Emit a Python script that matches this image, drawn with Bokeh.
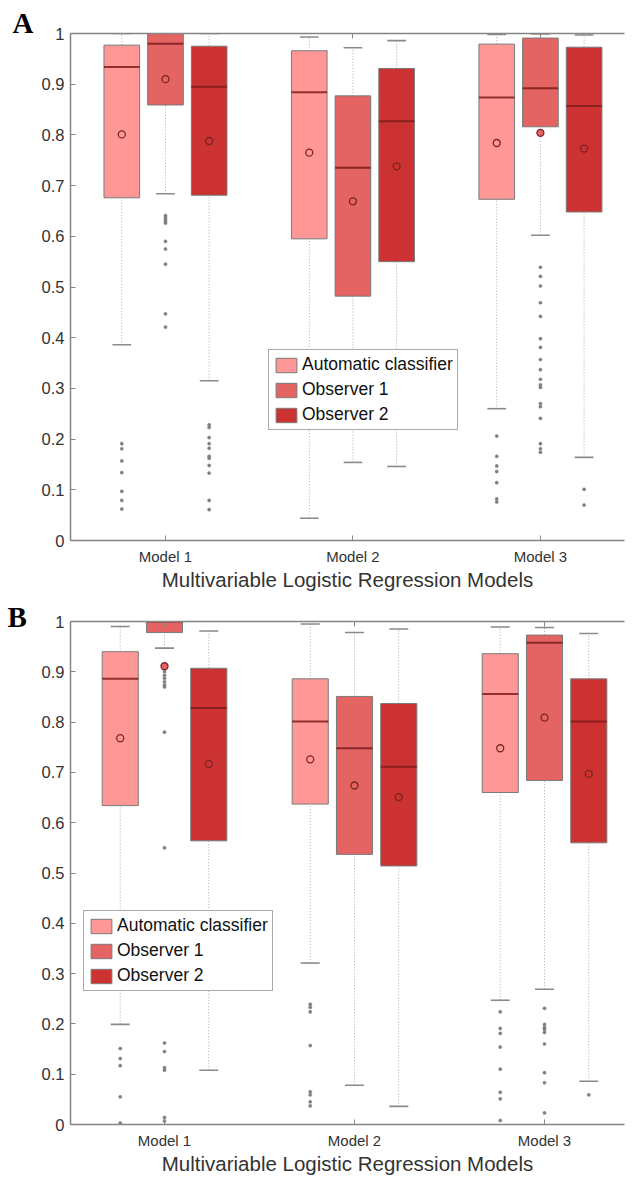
from bokeh.plotting import figure
from bokeh.layouts import column
from bokeh.models import (FixedTicker, LinearAxis, Range1d, Legend, LegendItem,
                          ColumnDataSource)
from bokeh.embed import file_html
from bokeh.resources import INLINE

models = ["Model 1", "Model 2", "Model 3"]
series = ["Automatic classifier", "Observer 1", "Observer 2"]
colors = ["#FF9797", "#E46363", "#CD3232"]
y_ticks = [0, 0.1, 0.2, 0.3, 0.4, 0.5, 0.6, 0.7, 0.8, 0.9, 1]

# ---------------- Panel A ----------------
a_auto_q1 = [0.676, 0.595, 0.673]
a_auto_med = [0.934, 0.884, 0.874]
a_auto_q3 = [0.977, 0.966, 0.979]
a_auto_lo = [0.386, 0.044, 0.260]
a_auto_hi = [1.000, 0.993, 0.998]
a_auto_mean = [0.801, 0.765, 0.784]
a_auto_out = [[0.191, 0.181, 0.157, 0.134, 0.097, 0.079, 0.062],
              [],
              [0.206, 0.166, 0.147, 0.136, 0.114, 0.082, 0.076]]

a_obs1_q1 = [0.859, 0.482, 0.816]
a_obs1_med = [0.980, 0.735, 0.892]
a_obs1_q3 = [1.000, 0.877, 0.991]
a_obs1_lo = [0.684, 0.154, 0.602]
a_obs1_hi = [1.000, 0.972, 0.999]
a_obs1_mean = [0.910, 0.669, 0.804]
a_obs1_out = [[0.641, 0.637, 0.633, 0.629, 0.626, 0.590, 0.575, 0.545, 0.447, 0.421],
              [],
              [0.539, 0.521, 0.502, 0.469, 0.442, 0.398, 0.381, 0.357, 0.337, 0.318,
               0.307, 0.302, 0.270, 0.264, 0.241, 0.191, 0.181, 0.174]]

a_obs2_q1 = [0.681, 0.550, 0.648]
a_obs2_med = [0.895, 0.827, 0.857]
a_obs2_q3 = [0.975, 0.931, 0.973]
a_obs2_lo = [0.315, 0.146, 0.164]
a_obs2_hi = [1.000, 0.986, 0.997]
a_obs2_mean = [0.788, 0.738, 0.773]
a_obs2_out = [[0.228, 0.223, 0.203, 0.191, 0.182, 0.166, 0.162, 0.148, 0.133, 0.079, 0.061],
              [],
              [0.101, 0.070]]

# ---------------- Panel B ----------------
b_auto_q1 = [0.634, 0.637, 0.660]
b_auto_med = [0.886, 0.801, 0.856]
b_auto_q3 = [0.940, 0.886, 0.936]
b_auto_lo = [0.199, 0.321, 0.247]
b_auto_hi = [0.990, 0.995, 0.989]
b_auto_mean = [0.768, 0.726, 0.748]
b_auto_out = [[0.151, 0.131, 0.117, 0.055, 0.003],
              [0.239, 0.233, 0.224, 0.157, 0.065, 0.059, 0.045, 0.037],
              [0.224, 0.191, 0.181, 0.154, 0.110, 0.064, 0.051, 0.008]]

b_obs1_q1 = [0.978, 0.537, 0.684]
b_obs1_med = [1.000, 0.748, 0.958]
b_obs1_q3 = [1.000, 0.851, 0.973]
b_obs1_lo = [0.947, 0.078, 0.269]
b_obs1_hi = [1.000, 0.978, 0.988]
b_obs1_mean = [0.911, 0.674, 0.809]
b_obs1_out = [[0.900, 0.893, 0.887, 0.880, 0.874, 0.870, 0.780, 0.550, 0.407,
               0.162, 0.145, 0.113, 0.108, 0.014, 0.007],
              [],
              [0.231, 0.199, 0.193, 0.189, 0.183, 0.160, 0.103, 0.083, 0.023]]

b_obs2_q1 = [0.564, 0.514, 0.560]
b_obs2_med = [0.828, 0.711, 0.801]
b_obs2_q3 = [0.907, 0.837, 0.886]
b_obs2_lo = [0.108, 0.036, 0.086]
b_obs2_hi = [0.981, 0.985, 0.976]
b_obs2_mean = [0.717, 0.651, 0.697]
b_obs2_out = [[], [], [0.059]]

panel_a = [
    (a_auto_q1, a_auto_med, a_auto_q3, a_auto_lo, a_auto_hi, a_auto_mean, a_auto_out),
    (a_obs1_q1, a_obs1_med, a_obs1_q3, a_obs1_lo, a_obs1_hi, a_obs1_mean, a_obs1_out),
    (a_obs2_q1, a_obs2_med, a_obs2_q3, a_obs2_lo, a_obs2_hi, a_obs2_mean, a_obs2_out),
]
panel_b = [
    (b_auto_q1, b_auto_med, b_auto_q3, b_auto_lo, b_auto_hi, b_auto_mean, b_auto_out),
    (b_obs1_q1, b_obs1_med, b_obs1_q3, b_obs1_lo, b_obs1_hi, b_obs1_mean, b_obs1_out),
    (b_obs2_q1, b_obs2_med, b_obs2_q3, b_obs2_lo, b_obs2_hi, b_obs2_mean, b_obs2_out),
]

FONT = "Liberation Sans"
AXIS_COLOR = "#858585"
TEXT_COLOR = "#333333"
offsets = [-0.233, 0.0, 0.233]
BOX_W = 0.19
CAP_W = 0.10


def make_panel(data, letter, x_range, border_left, border_top, frame_h, border_bottom,
               legend_xy, letter_offset, letter_standoff):
    height = border_top + frame_h + border_bottom
    p = figure(width=625, height=height, output_backend="svg", toolbar_location=None,
               x_range=Range1d(*x_range), y_range=Range1d(0, 1),
               min_border_left=border_left, min_border_right=1,
               min_border_top=border_top, min_border_bottom=border_bottom,
               background_fill_color="white", border_fill_color="white")
    p.outline_line_color = None
    p.grid.visible = False

    # panel letter as the figure title, pushed left of the frame
    p.title.text = letter
    p.title.align = "left"
    p.title.offset = letter_offset
    p.title.standoff = letter_standoff
    p.title.vertical_align = "bottom"
    p.title.text_font = "Liberation Serif"
    p.title.text_font_style = "bold"
    p.title.text_font_size = "29px"
    p.title.text_color = "black"

    # bottom axis
    xa = p.xaxis[0]
    xa.ticker = FixedTicker(ticks=[1, 2, 3])
    xa.major_label_overrides = {i + 1: m for i, m in enumerate(models)}
    xa.axis_label = "Multivariable Logistic Regression Models"
    xa.axis_label_text_font = FONT
    xa.axis_label_text_font_style = "normal"
    xa.axis_label_text_font_size = "20.5px"
    xa.axis_label_text_color = TEXT_COLOR
    xa.axis_label_standoff = 0
    xa.major_label_text_font = FONT
    xa.major_label_text_font_size = "15px"
    xa.major_label_text_color = TEXT_COLOR
    xa.major_label_standoff = 7
    xa.major_tick_in = 5
    xa.major_tick_out = 0
    xa.minor_tick_line_color = None
    xa.axis_line_color = AXIS_COLOR
    xa.axis_line_width = 1.5
    xa.major_tick_line_color = AXIS_COLOR

    # left axis
    ya = p.yaxis[0]
    ya.ticker = FixedTicker(ticks=y_ticks)
    ya.major_label_overrides = {0: "0", 1: "1"}
    ya.major_label_text_font = FONT
    ya.major_label_text_font_size = "16.5px"
    ya.major_label_text_color = TEXT_COLOR
    ya.major_label_standoff = 6
    ya.major_tick_in = 5
    ya.major_tick_out = 0
    ya.minor_tick_line_color = None
    ya.axis_line_color = AXIS_COLOR
    ya.axis_line_width = 1.5
    ya.major_tick_line_color = AXIS_COLOR

    # top axis (box edge with inward ticks, no labels)
    ta = LinearAxis(ticker=FixedTicker(ticks=[1, 2, 3]), major_tick_in=5, major_tick_out=0,
                    major_label_text_font_size="1px", major_label_text_color=None,
                    major_label_standoff=0,
                    minor_tick_line_color=None, axis_line_color=AXIS_COLOR,
                    axis_line_width=1.5, major_tick_line_color=AXIS_COLOR)
    p.add_layout(ta, "above")

    box_renderers = []
    for k, (q1, med, q3, lo, hi, mean, outs) in enumerate(data):
        xs = [i + 1 + offsets[k] for i in range(len(models))]
        src = ColumnDataSource(dict(
            x=xs, q1=q1, med=med, q3=q3, lo=lo, hi=hi, mean=mean,
            cx0=[x - CAP_W / 2 for x in xs], cx1=[x + CAP_W / 2 for x in xs],
            bx0=[x - BOX_W / 2 for x in xs], bx1=[x + BOX_W / 2 for x in xs]))
        # whiskers (dotted)
        p.segment(x0="x", y0="q3", x1="x", y1="hi", source=src,
                  line_color="#aaaaaa", line_dash="1 2", line_width=1)
        p.segment(x0="x", y0="lo", x1="x", y1="q1", source=src,
                  line_color="#aaaaaa", line_dash="1 2", line_width=1)
        # caps
        p.segment(x0="cx0", y0="hi", x1="cx1", y1="hi", source=src,
                  line_color="#8a8a8a", line_width=1.6)
        p.segment(x0="cx0", y0="lo", x1="cx1", y1="lo", source=src,
                  line_color="#8a8a8a", line_width=1.6)
        # boxes
        r = p.vbar(x="x", width=BOX_W, bottom="q1", top="q3", source=src,
                   fill_color=colors[k], line_color="#7a7a7a", line_width=1)
        box_renderers.append(r)
        # medians
        p.segment(x0="bx0", y0="med", x1="bx1", y1="med", source=src,
                  line_color="#7d1c1c", line_width=2, line_alpha=0.85)
        # outliers
        ox, oy = [], []
        for i, vals in enumerate(outs):
            ox += [xs[i]] * len(vals)
            oy += vals
        p.scatter(ox, oy, size=3.2, marker="circle", fill_color="#7f7f7f",
                  line_color="#7f7f7f", line_width=0.5)
        # means
        p.scatter(x="x", y="mean", source=src, size=7, marker="circle",
                  fill_color=colors[k], line_color="#7a2323", line_width=1.3)

    legend = Legend(items=[LegendItem(label=s, renderers=[box_renderers[k]])
                           for k, s in enumerate(series)],
                    location=legend_xy, orientation="vertical",
                    label_text_font=FONT, label_text_font_size="17.5px",
                    label_text_color="#111111",
                    glyph_width=26, glyph_height=18, label_height=18,
                    label_standoff=3, spacing=4, padding=4, margin=0,
                    border_line_color="#555555", border_line_width=1,
                    background_fill_color="white", background_fill_alpha=1)
    p.add_layout(legend, "center")
    return p


p1 = make_panel(panel_a, "A", (0.4934, 3.4485), 64, 33, 507, 56, (198, 110), -58, -10)
p2 = make_panel(panel_b, "B", (0.5053, 3.421), 70, 25, 503, 56, (13, 133), -63, -22)

layout = column(p1, p2, spacing=0)
open("out.html", "w").write(file_html(layout, INLINE))
